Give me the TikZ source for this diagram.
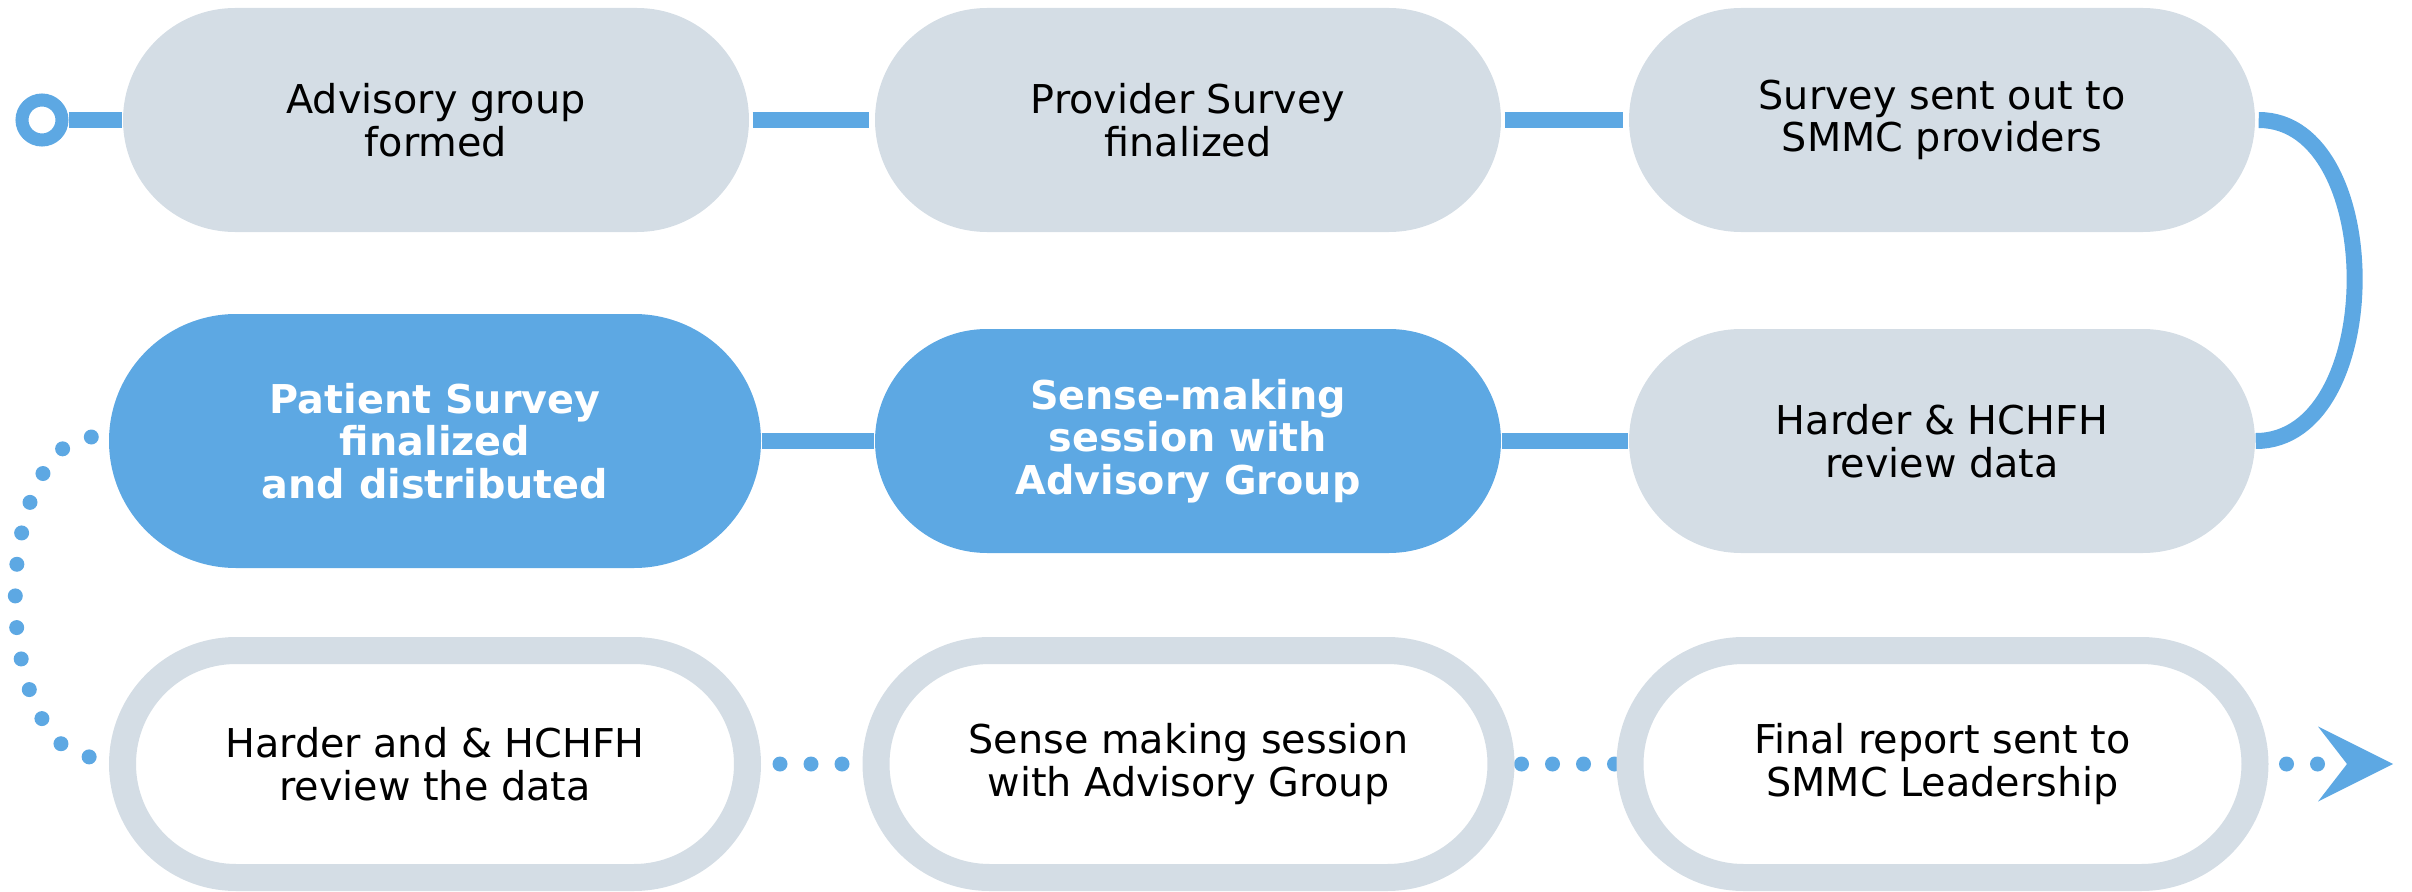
\documentclass[tikz,border=0pt]{standalone}
\usepackage{fontspec}
\setmainfont{DejaVu Sans}
\usetikzlibrary{shapes.misc,backgrounds}

\definecolor{stepblue}{HTML}{5DA8E3}
\definecolor{stepgray}{HTML}{D4DDE5}

\begin{document}
\begin{tikzpicture}[
    every node/.style={font=\fontsize{11.3}{12.1}\selectfont, align=center, inner sep=0pt},
    pill/.style={rounded rectangle, fill=stepgray, minimum width=6.26cm, minimum height=2.24cm},
    bluepill/.style={pill, fill=stepblue, text=white, font=\fontsize{11.3}{12.1}\selectfont\bfseries},
    ringpill/.style={rounded rectangle, draw=stepgray, fill=white, line width=0.27cm, minimum width=6.25cm, minimum height=2.27cm},
    link/.style={stepblue, line width=0.16cm},
    dotlink/.style={stepblue, line width=0.15cm, line cap=round, dash pattern=on 0pt off 0.31cm}
  ]
    \useasboundingbox (0,0) rectangle (24.12,8.91);

    % Row 1
    \node[circle, draw=stepblue, line width=0.13cm, minimum size=0.40cm] (start) at (0.42,7.71) {};
    \node[pill] (t1) at (4.36,7.71) {Advisory group\\formed};
    \node[pill] (t2) at (11.88,7.71) {Provider Survey\\finalized};
    \node[pill] (t3) at (19.42,7.71) {Survey sent out to\\SMMC providers};

    % Row 2
    \node[bluepill, minimum width=6.52cm, minimum height=2.54cm] (m1) at (4.35,4.50) {Patient Survey\\finalized\\and distributed};
    \node[bluepill] (m2) at (11.88,4.50) {Sense-making\\session with\\Advisory Group};
    \node[pill] (m3) at (19.42,4.50) {Harder \& HCHFH\\review data};

    % Row 3
    \node[ringpill] (b1) at (4.35,1.27) {Harder and \& HCHFH\\review the data};
    \node[ringpill] (b2) at (11.885,1.27) {Sense making session\\with Advisory Group};
    \node[ringpill] (b3) at (19.425,1.27) {Final report sent to\\SMMC Leadership};
    \coordinate (finish) at (23.93,1.27);

    % Connectors
    \begin{scope}[on background layer]
      \draw[link] (start.east) -- (t1.west);
      \draw[link, shorten <=0.03cm, shorten >=0.05cm] (t1.east) -- (t2.west);
      \draw[link, shorten <=0.03cm, shorten >=0.05cm] (t2.east) -- (t3.west);
      \draw[link, shorten <=0.03cm] (t3.east) to[out=0, in=0, looseness=1.05] (m3.east);
      \draw[link] (m1.east) -- (m2.west);
      \draw[link] (m2.east) -- (m3.west);

      \draw[dotlink, dash pattern=on 0pt off 0.317cm] ([xshift=-0.17cm, yshift=0.04cm]m1.west)
        arc[start angle=90, end angle=270, x radius=0.76cm, y radius=1.60cm];
      \draw[dotlink] ([xshift=0.19cm]b1.east) -- (b2.west);
      \draw[dotlink] ([xshift=0.07cm]b2.east) -- (b3.west);
      \draw[dotlink] ([xshift=0.18cm]b3.east) -- ([xshift=-0.6cm]finish);
    \end{scope}

    % Arrow head
    \fill[stepblue] (finish) -- ++(-0.75,0.375) -- ++(0.29,-0.375) -- ++(-0.29,-0.375) -- cycle;
  \end{tikzpicture}
\end{document}
